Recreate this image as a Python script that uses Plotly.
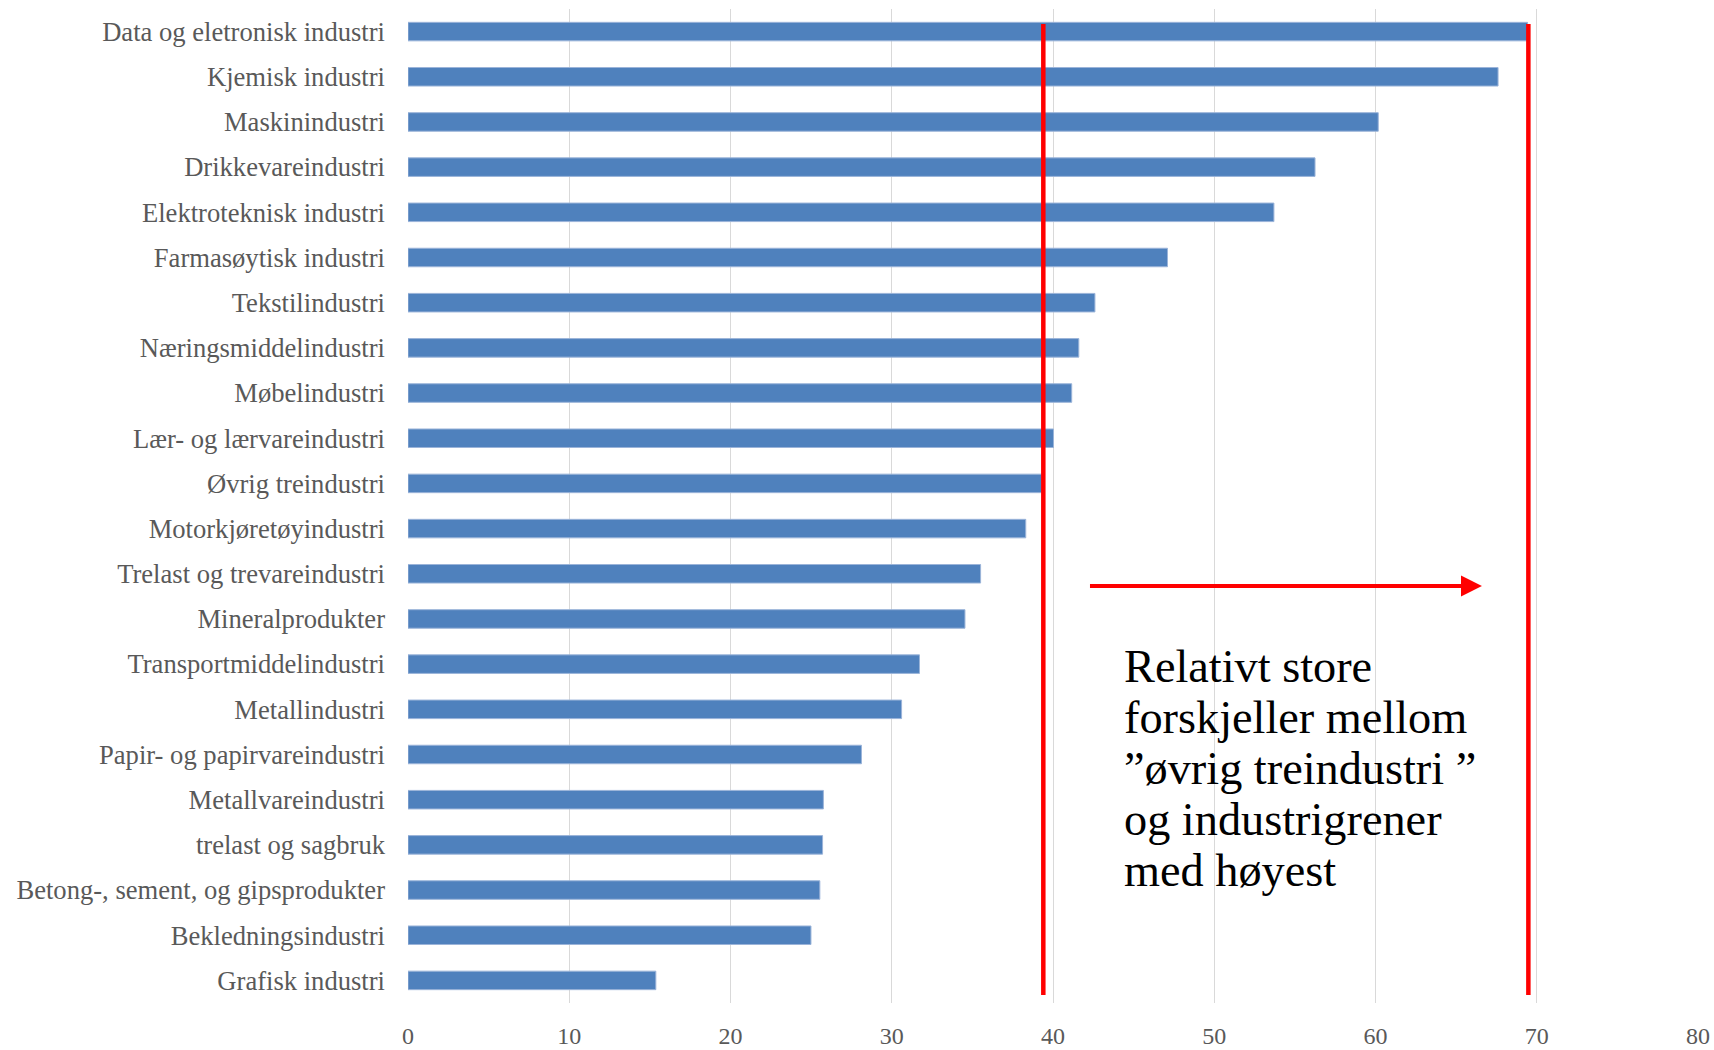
import plotly.graph_objects as go

categories = [
    "Data og eletronisk industri", "Kjemisk industri", "Maskinindustri",
    "Drikkevareindustri", "Elektroteknisk industri", "Farmasøytisk industri",
    "Tekstilindustri", "Næringsmiddelindustri", "Møbelindustri",
    "Lær- og lærvareindustri", "Øvrig treindustri", "Motorkjøretøyindustri",
    "Trelast og trevareindustri", "Mineralprodukter", "Transportmiddelindustri",
    "Metallindustri", "Papir- og papirvareindustri", "Metallvareindustri",
    "trelast og sagbruk", "Betong-, sement, og gipsprodukter",
    "Bekledningsindustri", "Grafisk industri",
]
values = [69.43, 67.6, 60.17, 56.25, 53.7, 47.1, 42.6, 41.6, 41.16, 40.03, 39.3,
          38.31, 35.51, 34.54, 31.72, 30.61, 28.12, 25.76, 25.71, 25.54, 24.99, 15.37]
x_ticks = [0, 10, 20, 30, 40, 50, 60, 70, 80]
annotation_lines = [
    "Relativt store",
    "forskjeller mellom",
    "\u201døvrig treindustri \u201d",
    "og industrigrener",
    "med høyest",
]

SERIF = "Palatino Linotype, Book Antiqua, Palatino, Liberation Serif, serif"
RED = "#FF0000"
W, H = 1714, 1050
M_T, M_B = 9, 47
PLOT_H = H - M_T - M_B
N = len(categories)


def px_to_cat(py):
    """pixel row (from top of page) -> category-axis coordinate"""
    return (py - M_T) / (PLOT_H / N) - 0.5


fig = go.Figure()
fig.add_trace(go.Bar(
    y=categories, x=values, orientation="h",
    marker=dict(color="#4F81BD", line=dict(color="#9BB4D9", width=1)),
    width=0.41, hoverinfo="x+y",
))

# reference lines at "Øvrig treindustri" and the highest value
low_val = values[categories.index("Øvrig treindustri")] + 0.1
high_val = max(values) + 0.05
for xv in (low_val, high_val):
    fig.add_shape(type="line", xref="x", yref="y", x0=xv, x1=xv,
                  y0=px_to_cat(24), y1=px_to_cat(995),
                  line=dict(color=RED, width=4.5))

# arrow
arrow_y = px_to_cat(586)
fig.add_annotation(x=66.6, y=arrow_y, ax=42.2, ay=arrow_y, xref="x", yref="y",
                   axref="x", ayref="y", text="", showarrow=True,
                   arrowhead=2, arrowsize=1.1, arrowwidth=3.8,
                   arrowcolor=RED, standoff=0, startstandoff=0)

FS = 46.3
first_baseline, line_step = 681.7, 51.0
for i, line in enumerate(annotation_lines):
    center = first_baseline + i * line_step - 0.3375 * FS
    fig.add_annotation(x=44.35, y=px_to_cat(center), xref="x", yref="y",
                       xanchor="left", yanchor="middle", align="left",
                       showarrow=False, text=line, borderpad=0,
                       font=dict(family=SERIF, size=FS, color="#000000"))

fig.update_layout(
    width=W, height=H,
    margin=dict(l=408, r=16, t=M_T, b=M_B, autoexpand=False),
    plot_bgcolor="white", paper_bgcolor="white",
    showlegend=False, bargap=0.59,
    font=dict(family=SERIF, color="#595959"),
)
fig.update_xaxes(range=[0, 80], tickvals=x_ticks, ticktext=[str(t) for t in x_ticks],
                 showgrid=True, gridcolor="#D9D9D9", gridwidth=1,
                 zeroline=False, showline=False, ticks="", automargin=False,
                 tickfont=dict(family=SERIF, size=24, color="#595959"),
                 ticklabelstandoff=16)
fig.update_yaxes(type="category", range=[N - 0.5, -0.5], showgrid=False,
                 zeroline=False, showline=False, ticks="", automargin=False,
                 tickfont=dict(family=SERIF, size=26.6, color="#595959"),
                 ticklabelstandoff=22)
fig.write_html("out.html", config={"displayModeBar": False},
               post_script="document.body.style.margin='0';")
